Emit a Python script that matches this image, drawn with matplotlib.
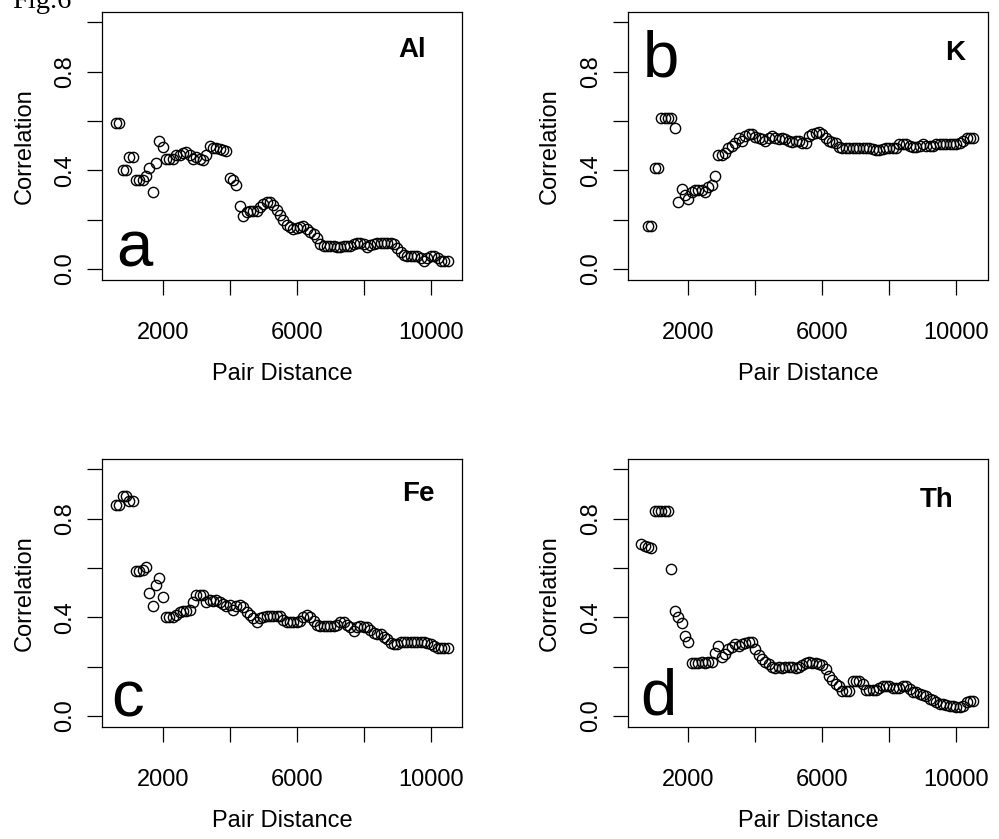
import matplotlib
matplotlib.use("Agg")
import matplotlib.pyplot as plt
import numpy as np

plt.rcParams['font.family'] = ['Liberation Sans', 'DejaVu Sans']

# ---------------- data ----------------
pair_distance = [600, 700, 800, 900, 1000, 1100, 1200, 1300, 1400, 1500,
                 1600, 1700, 1800, 1900, 2000, 2100, 2200, 2300, 2400, 2500,
                 2600, 2700, 2800, 2900, 3000, 3100, 3200, 3300, 3400, 3500,
                 3600, 3700, 3800, 3900, 4000, 4100, 4200, 4300, 4400, 4500,
                 4600, 4700, 4800, 4900, 5000, 5100, 5200, 5300, 5400, 5500,
                 5600, 5700, 5800, 5900, 6000, 6100, 6200, 6300, 6400, 6500,
                 6600, 6700, 6800, 6900, 7000, 7100, 7200, 7300, 7400, 7500,
                 7600, 7700, 7800, 7900, 8000, 8100, 8200, 8300, 8400, 8500,
                 8600, 8700, 8800, 8900, 9000, 9100, 9200, 9300, 9400, 9500,
                 9600, 9700, 9800, 9900, 10000, 10100, 10200, 10300, 10400, 10500]

corr_al = [0.59, 0.59, 0.40, 0.40, 0.455, 0.455, 0.36, 0.36, 0.36, 0.375,
           0.41, 0.31, 0.43, 0.52, 0.495, 0.447, 0.445, 0.447, 0.46, 0.463,
           0.468, 0.474, 0.46, 0.447, 0.454, 0.444, 0.44, 0.46, 0.50, 0.49,
           0.49, 0.485, 0.48, 0.477, 0.37, 0.36, 0.34, 0.255, 0.215, 0.23,
           0.236, 0.236, 0.236, 0.25, 0.263, 0.273, 0.27, 0.26, 0.24, 0.22,
           0.20, 0.178, 0.17, 0.163, 0.165, 0.168, 0.172, 0.16, 0.15, 0.14,
           0.125, 0.10, 0.093, 0.093, 0.093, 0.093, 0.09, 0.09, 0.093, 0.093,
           0.093, 0.10, 0.106, 0.106, 0.10, 0.09, 0.095, 0.10, 0.106, 0.106,
           0.106, 0.106, 0.106, 0.10, 0.085, 0.07, 0.055, 0.052, 0.052, 0.052,
           0.052, 0.045, 0.03, 0.045, 0.052, 0.052, 0.045, 0.034, 0.034, 0.034]

corr_k = [0.172, 0.172, 0.409, 0.409, 0.61, 0.61, 0.61, 0.61, 0.57, 0.27,
          0.325, 0.30, 0.284, 0.31, 0.32, 0.32, 0.32, 0.31, 0.33, 0.34,
          0.375, 0.46, 0.46, 0.47, 0.49, 0.50, 0.51, 0.53, 0.52, 0.54,
          0.545, 0.545, 0.535, 0.53, 0.525, 0.52, 0.53, 0.54, 0.53, 0.525,
          0.53, 0.525, 0.52, 0.515, 0.52, 0.52, 0.51, 0.51, 0.54, 0.545,
          0.55, 0.555, 0.545, 0.53, 0.52, 0.515, 0.51, 0.495, 0.49, 0.49,
          0.49, 0.49, 0.49, 0.49, 0.49, 0.49, 0.49, 0.485, 0.48, 0.48,
          0.485, 0.49, 0.49, 0.49, 0.49, 0.505, 0.505, 0.505, 0.50, 0.495,
          0.495, 0.50, 0.505, 0.50, 0.50, 0.50, 0.505, 0.505, 0.505, 0.505,
          0.505, 0.505, 0.505, 0.51, 0.52, 0.53, 0.53, 0.53]

corr_fe = [0.855, 0.855, 0.89, 0.89, 0.87, 0.87, 0.587, 0.587, 0.59, 0.605,
           0.50, 0.445, 0.53, 0.56, 0.48, 0.40, 0.40, 0.40, 0.41, 0.42,
           0.425, 0.425, 0.43, 0.46, 0.49, 0.49, 0.49, 0.46, 0.47, 0.465,
           0.47, 0.46, 0.455, 0.445, 0.45, 0.43, 0.445, 0.45, 0.44, 0.42,
           0.41, 0.395, 0.38, 0.395, 0.40, 0.405, 0.405, 0.405, 0.405, 0.405,
           0.39, 0.38, 0.38, 0.38, 0.38, 0.385, 0.40, 0.41, 0.40, 0.385,
           0.37, 0.365, 0.365, 0.365, 0.365, 0.365, 0.37, 0.38, 0.38, 0.37,
           0.36, 0.345, 0.36, 0.365, 0.36, 0.36, 0.35, 0.335, 0.33, 0.33,
           0.32, 0.31, 0.295, 0.29, 0.29, 0.30, 0.30, 0.30, 0.30, 0.30,
           0.30, 0.30, 0.30, 0.295, 0.29, 0.285, 0.275, 0.275, 0.275, 0.275]

corr_th = [0.695, 0.69, 0.685, 0.68, 0.83, 0.83, 0.83, 0.83, 0.83, 0.597,
           0.425, 0.40, 0.375, 0.325, 0.30, 0.215, 0.215, 0.215, 0.22, 0.215,
           0.22, 0.22, 0.255, 0.285, 0.24, 0.25, 0.27, 0.28, 0.29, 0.285,
           0.29, 0.295, 0.30, 0.30, 0.27, 0.245, 0.23, 0.22, 0.21, 0.20,
           0.195, 0.20, 0.195, 0.20, 0.20, 0.20, 0.195, 0.20, 0.205, 0.215,
           0.22, 0.215, 0.215, 0.21, 0.205, 0.19, 0.16, 0.145, 0.13, 0.12,
           0.10, 0.10, 0.10, 0.14, 0.14, 0.14, 0.13, 0.105, 0.105, 0.105,
           0.105, 0.115, 0.12, 0.12, 0.12, 0.115, 0.115, 0.115, 0.12, 0.12,
           0.11, 0.095, 0.095, 0.09, 0.085, 0.08, 0.07, 0.065, 0.055, 0.05,
           0.05, 0.045, 0.04, 0.04, 0.035, 0.035, 0.04, 0.055, 0.06, 0.06]

panels = [
    ("Al", "a", pair_distance, corr_al),
    ("K", "b", pair_distance[len(pair_distance) - len(corr_k):], corr_k),
    ("Fe", "c", pair_distance, corr_fe),
    ("Th", "d", pair_distance, corr_th),
]

x_ticks = [2000, 4000, 6000, 8000, 10000]
x_ticklabels = ["2000", "", "6000", "", "10000"]
y_ticks = [0.0, 0.2, 0.4, 0.6, 0.8, 1.0]
y_ticklabels = ["0.0", "", "0.4", "", "0.8", ""]

# ---------------- layout (pixels) ----------------
W, H = 999, 839
fig = plt.figure(figsize=(W / 100, H / 100), dpi=100)
fig.patch.set_facecolor("white")

rects_px = [
    (102.3, 12.3, 462.3, 280.0),
    (627.7, 12.3, 988.0, 280.0),
    (102.3, 459.3, 462.3, 727.0),
    (627.7, 459.3, 988.0, 727.0),
]
elem_pos = [  # (x center frac, baseline frac)
    (0.861, 0.832),
    (0.910, 0.822),
    (0.878, 0.845),
    (0.857, 0.823),
]
letter_pos = [
    (0.040, 0.052),
    (0.043, 0.762),
    (0.026, 0.041),
    (0.034, 0.045),
]

for (elem, letter, xs, ys), (l, t, r, b), ep, lp in zip(panels, rects_px, elem_pos, letter_pos):
    ax = fig.add_axes([l / W, 1 - b / H, (r - l) / W, (b - t) / H])
    ax.plot(xs, ys, linestyle="none", marker="o", markersize=7.4,
            markerfacecolor="none", markeredgecolor="black", markeredgewidth=1.0)
    ax.set_xlim(195, 10940)
    ax.set_ylim(-0.045, 1.04)
    ax.set_xticks(x_ticks)
    ax.set_xticklabels(x_ticklabels)
    ax.set_yticks(y_ticks)
    ax.set_yticklabels(y_ticklabels)
    ax.tick_params(axis="both", direction="out", length=10.5, width=0.9,
                   labelsize=17, colors="black")
    ax.tick_params(axis="x", pad=19.5)
    ax.tick_params(axis="y", pad=8, labelrotation=90)
    for lbl in ax.get_yticklabels():
        lbl.set_va("center")
    for s in ax.spines.values():
        s.set_linewidth(0.9)

    ax.text(ep[0], ep[1], elem, transform=ax.transAxes, ha="center",
            va="baseline", fontsize=20, fontweight="bold")
    ax.text(lp[0], lp[1], letter, transform=ax.transAxes, ha="left",
            va="baseline", fontsize=47)

    ax.annotate("Pair Distance", xy=(0.5, 0), xycoords="axes fraction",
                xytext=(0, -72), textcoords="offset points",
                ha="center", va="baseline", fontsize=17)
    ax.annotate("Correlation", xy=(0, 0.5), xycoords="axes fraction",
                xytext=(-51.5, 0), textcoords="offset points",
                ha="center", va="baseline", rotation=90,
                rotation_mode="anchor", fontsize=17)

fig.text(12 / W, 1 - 8.0 / H, "Fig.6", ha="left", va="baseline",
         fontsize=20.5, family=["Liberation Serif", "DejaVu Serif"])

fig.savefig("out.png", dpi=100, facecolor="white")
